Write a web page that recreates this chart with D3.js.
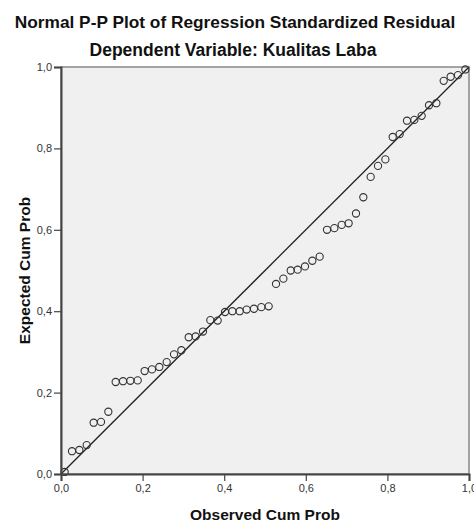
<!DOCTYPE html>
<html>
<head>
<meta charset="utf-8">
<script src="https://cdn.jsdelivr.net/npm/d3@7/dist/d3.min.js"></script>
<style>
  html, body { margin: 0; padding: 0; background: #ffffff; }
  svg { display: block; font-family: "Liberation Sans", Arial, sans-serif; }
</style>
</head>
<body>
<svg id="chart" width="474" height="524"></svg>
<script>
const title = "Normal P-P Plot of Regression Standardized Residual";
const subtitle = "Dependent Variable: Kualitas Laba";
const xTitle = "Observed Cum Prob";
const yTitle = "Expected Cum Prob";
const tickValues = [0, 0.2, 0.4, 0.6, 0.8, 1.0];
const tickLabels = ["0,0", "0,2", "0,4", "0,6", "0,8", "1,0"];

const observed = [0.009, 0.027, 0.045, 0.063, 0.080, 0.098, 0.116, 0.134, 0.152, 0.170,
  0.188, 0.205, 0.223, 0.241, 0.259, 0.277, 0.295, 0.313, 0.330, 0.348,
  0.366, 0.384, 0.402, 0.420, 0.438, 0.455, 0.473, 0.491, 0.509, 0.527,
  0.545, 0.563, 0.580, 0.598, 0.616, 0.634, 0.652, 0.670, 0.688, 0.705,
  0.723, 0.741, 0.759, 0.777, 0.795, 0.813, 0.830, 0.848, 0.866, 0.884,
  0.902, 0.920, 0.938, 0.955, 0.973, 0.991];
const expected = [0.005, 0.056, 0.059, 0.071, 0.126, 0.128, 0.153, 0.226, 0.228, 0.229,
  0.230, 0.253, 0.257, 0.263, 0.275, 0.294, 0.304, 0.336, 0.338, 0.350,
  0.378, 0.377, 0.398, 0.400, 0.400, 0.404, 0.406, 0.410, 0.412, 0.467,
  0.480, 0.500, 0.502, 0.510, 0.524, 0.534, 0.600, 0.604, 0.612, 0.616,
  0.640, 0.680, 0.730, 0.757, 0.773, 0.828, 0.835, 0.868, 0.870, 0.880,
  0.906, 0.911, 0.966, 0.976, 0.980, 0.994];

const svg = d3.select("#chart");
const pLeft = 61, pRight = 469, pTop = 67, pBottom = 474;

const x = d3.scaleLinear().domain([0, 1]).range([pLeft, pRight]);
const y = d3.scaleLinear().domain([0, 1]).range([pBottom, pTop]);

// titles
svg.append("text").attr("x", 235).attr("y", 28).attr("text-anchor", "middle")
  .attr("font-size", 17.3).attr("font-weight", "bold").attr("fill", "#111").text(title);
svg.append("text").attr("x", 233).attr("y", 56).attr("text-anchor", "middle")
  .attr("font-size", 17.5).attr("font-weight", "bold").attr("fill", "#111").text(subtitle);

// plot background
svg.append("rect").attr("x", pLeft).attr("y", pTop)
  .attr("width", pRight - pLeft).attr("height", pBottom - pTop)
  .attr("fill", "#f0f0f0").attr("stroke", "#888").attr("stroke-width", 1.5);

// diagonal reference line
svg.append("line")
  .attr("x1", x(0)).attr("y1", y(0)).attr("x2", x(1)).attr("y2", y(1))
  .attr("stroke", "#222").attr("stroke-width", 1.3);

// points
svg.append("g").selectAll("circle").data(observed).join("circle")
  .attr("cx", (d) => x(d))
  .attr("cy", (d, i) => y(expected[i]))
  .attr("r", 3.6)
  .attr("fill", "none")
  .attr("stroke", "#333")
  .attr("stroke-width", 1.1);

// axes
const xAxis = d3.axisBottom(x).tickValues(tickValues)
  .tickFormat((d, i) => tickLabels[i]).tickSize(7).tickPadding(3);
const yAxis = d3.axisLeft(y).tickValues(tickValues)
  .tickFormat((d, i) => tickLabels[i]).tickSize(7).tickPadding(2);

const gx = svg.append("g").attr("transform", `translate(0,${pBottom})`).call(xAxis);
const gy = svg.append("g").attr("transform", `translate(${pLeft},0)`).call(yAxis);
[gx, gy].forEach(g => {
  g.select(".domain").attr("stroke", "#444").attr("stroke-width", 2);
  g.selectAll(".tick line").attr("stroke", "#444").attr("stroke-width", 1.2);
  g.selectAll(".tick text").attr("font-size", 11).attr("fill", "#333")
    .attr("font-family", "'Liberation Sans', Arial, sans-serif");
});

// axis titles
svg.append("text").attr("x", 265).attr("y", 520).attr("text-anchor", "middle")
  .attr("font-size", 15.5).attr("font-weight", "bold").attr("fill", "#111").text(xTitle);
svg.append("text").attr("transform", `translate(30,${(pTop + pBottom) / 2}) rotate(-90)`)
  .attr("text-anchor", "middle")
  .attr("font-size", 15.5).attr("font-weight", "bold").attr("fill", "#111").text(yTitle);
</script>
</body>
</html>
